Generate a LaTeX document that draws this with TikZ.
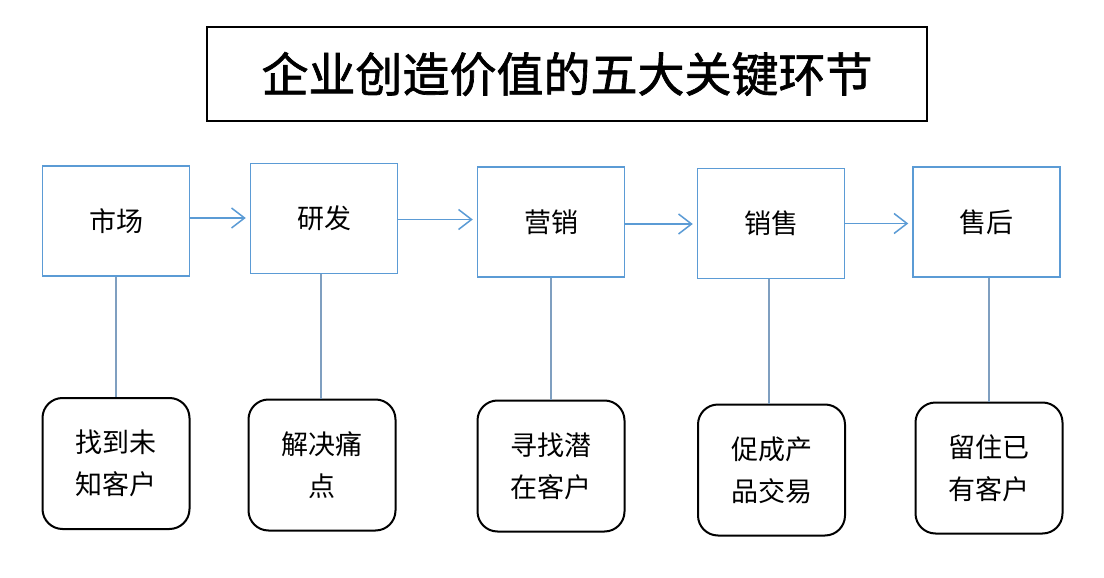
\documentclass[tikz,border=0pt]{standalone}
\usepackage{fontspec}
\setmainfont{Noto Sans CJK SC}
\newfontfamily\titlefont{Noto Sans CJK SC}[BoldFont={Noto Sans CJK SC}, BoldFeatures={FakeBold=1.4}]
\usepackage{xcolor}
\usepackage{tikz}
\usetikzlibrary{arrows.meta, positioning}
\definecolor{flowblue}{HTML}{5B9BD5}
\definecolor{linkblue}{HTML}{7F9FC0}

\begin{document}
\begin{tikzpicture}[
  x=1pt, y=-1pt,
  stage/.style={
    draw=flowblue, line width=1.5pt, fill=white,
    minimum width=147pt, minimum height=110pt, inner sep=0pt,
    align=center, font=\fontsize{27}{40}\selectfont
  },
  goal/.style={
    draw=black, line width=2pt, fill=white, rounded corners=20pt,
    minimum width=147pt, minimum height=131pt, inner sep=0pt,
    align=center, font=\fontsize{27}{42}\selectfont
  },
  arr/.style={-{Straight Barb[length=13pt, width=20pt]}, line width=1.5pt, flowblue, shorten >=4pt},
  link/.style={line width=1.5pt, linkblue},
]
\useasboundingbox (0,0) rectangle (1104,578);

% Title
\node[draw=black, line width=2pt, minimum width=720pt, minimum height=94pt,
      font=\titlefont\bfseries\fontsize{47}{50}\selectfont] (title) at (567, 74) {企业创造价值的五大关键环节};

% Stages
\node[stage] (m1) at (116, 221)   {市场};
\node[stage] (m2) at (324, 218.5) {研发};
\node[stage] (m3) at (551, 222)   {营销};
\node[stage] (m4) at (771, 223.5) {销售};
\node[stage] (m5) at (986.5, 222) {售后};

% Goals
\node[goal] (g1) at (116, 463.5) {找到未\\知客户};
\node[goal] (g2) at (322, 465)   {解决痛\\点};
\node[goal] (g3) at (551, 466)   {寻找潜\\在客户};
\node[goal] (g4) at (771.5, 470) {促成产\\品交易};
\node[goal] (g5) at (989, 468)   {留住已\\有客户};

% Arrows between stages
\draw[arr] ([yshift=3pt]m1.east) -- ([yshift=3pt]m1.east -| m2.west);
\draw[arr] ([yshift=-1pt]m2.east) -- ([yshift=-1pt]m2.east -| m3.west);
\draw[arr] ([yshift=-2pt]m3.east) -- ([yshift=-2pt]m3.east -| m4.west);
\draw[arr] (m4.east) -- (m4.east -| m5.west);

% Stage to goal links
\draw[link] (m1.south) -- (m1.south |- g1.north);
\draw[link] ([xshift=-3pt]m2.south) -- ([xshift=-3pt]m2.south |- g2.north);
\draw[link] (m3.south) -- (m3.south |- g3.north);
\draw[link] ([xshift=-2pt]m4.south) -- ([xshift=-2pt]m4.south |- g4.north);
\draw[link] ([xshift=2.5pt]m5.south) -- ([xshift=2.5pt]m5.south |- g5.north);

\end{tikzpicture}
\end{document}
